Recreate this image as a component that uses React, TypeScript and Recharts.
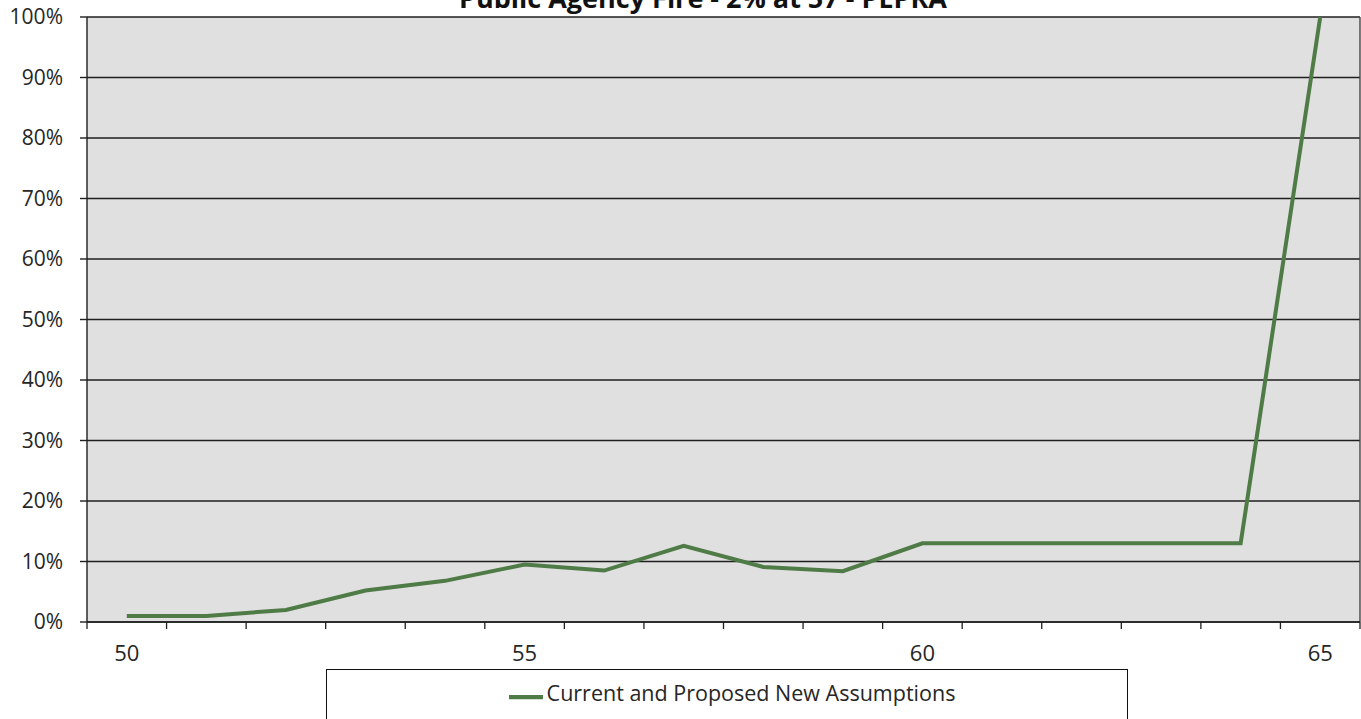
import React from 'react';
import { LineChart, Line, XAxis, YAxis, CartesianGrid, Legend, ReferenceLine } from 'recharts';

const TITLE = 'Public Agency Fire - 2% at 57 - PEPRA';
const SERIES_NAME = 'Current and Proposed New Assumptions';
const ages = [50, 51, 52, 53, 54, 55, 56, 57, 58, 59, 60, 61, 62, 63, 64, 65];
const rates = [1, 1, 2, 5.2, 6.8, 9.5, 8.5, 12.6, 9.1, 8.4, 13, 13, 13, 13, 13, 100];
const yTicks = [0, 10, 20, 30, 40, 50, 60, 70, 80, 90, 100];
const labeledAges = [50, 55, 60, 65];

const data = ages.map((age, i) => ({ age, rate: rates[i] }));
// tick lines sit between categories; labels sit at category centres
const boundaries = [ages[0] - 0.5, ...ages.map((a) => a + 0.5)];
const xTicks = [...boundaries, ...labeledAges].sort((a, b) => a - b);

const FONT = '"Open Sans", sans-serif';
const TEXT = '#262626';
const GREEN = '#4f7b47';
const GRID = '#1f1f1f';

const XTick = (props: any) => {
  const { x, y, payload } = props;
  const v = payload.value;
  if (Number.isInteger(v)) {
    return (
      <text x={x} y={y + 39} textAnchor="middle" fill={TEXT} fontSize={22} fontFamily={FONT}>
        {v}
      </text>
    );
  }
  return <line x1={x} x2={x} y1={y} y2={y + 7} stroke={GRID} strokeWidth={1.3} />;
};

export default function App() {
  return (
    <div style={{ position: 'absolute', left: 0, top: 0, width: 1361, height: 719, background: '#fff' }}>
      <LineChart width={1361} height={719} data={data} margin={{ top: 17, right: 1, bottom: 0, left: 0 }}>
        <CartesianGrid vertical={false} stroke={GRID} strokeWidth={1.4} fill="#e0e0e0" fillOpacity={1} />
        <XAxis
          dataKey="age"
          type="number"
          domain={[ages[0] - 0.5, ages[ages.length - 1] + 0.5]}
          ticks={xTicks}
          interval={0}
          tick={<XTick />}
          tickLine={false}
          tickSize={0}
          tickMargin={0}
          height={97}
          axisLine={{ stroke: GRID, strokeWidth: 1.4 }}
        />
        <YAxis
          domain={[0, 100]}
          ticks={yTicks}
          interval={0}
          width={87}
          tickSize={7}
          tickMargin={17}
          tickFormatter={(v: number) => `${v}%`}
          tick={{ fill: TEXT, fontSize: 21, fontFamily: FONT }}
          tickLine={{ stroke: GRID, strokeWidth: 1.4 }}
          axisLine={{ stroke: GRID, strokeWidth: 1.4 }}
        />
        <ReferenceLine x={ages[ages.length - 1] + 0.5} stroke="#444" strokeWidth={1.4} />
        <Line
          type="linear"
          dataKey="rate"
          name={SERIES_NAME}
          stroke={GREEN}
          strokeWidth={4}
          dot={false}
          activeDot={false}
          isAnimationActive={false}
          legendType="plainline"
        />
        <Legend
          layout="horizontal"
          verticalAlign="middle"
          align="center"
          iconSize={34}
          formatter={(value: string) => (
            <span style={{ color: TEXT, fontSize: 21.5, fontFamily: FONT }}>{value}</span>
          )}
          wrapperStyle={{
            left: 326,
            top: 669,
            width: 802,
            height: 60,
            border: '1.5px solid #111',
            background: '#fff',
            boxSizing: 'border-box',
            paddingTop: 8,
            paddingLeft: 20,
          }}
        />
      </LineChart>
      <svg width={1361} height={30} style={{ position: 'absolute', left: 0, top: 0 }}>
        <text x={703} y={8} textAnchor="middle" fontSize={27} fontWeight="bold" fill="#111" fontFamily={FONT}>
          {TITLE}
        </text>
      </svg>
    </div>
  );
}
